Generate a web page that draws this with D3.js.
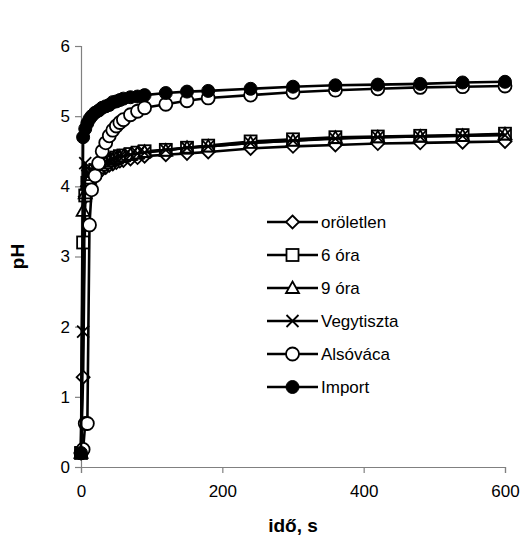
<!DOCTYPE html>
<html>
<head>
<meta charset="utf-8">
<script src="https://cdn.jsdelivr.net/npm/d3@7"></script>
<style>
  body { margin: 0; background: #fff; }
  svg text { font-family: "Liberation Sans", Arial, sans-serif; fill: #000; }
</style>
</head>
<body>
<svg id="chart"></svg>
<script>
var width = 522;
var height = 540;

// time, s
var times = [0, 3, 6, 9, 12, 15, 20, 25, 30, 35, 40, 45, 50, 55, 60, 70, 80, 90, 120, 150, 180, 240, 300, 360, 420, 480, 540, 600];

var seriesNames = [" oröletlen", "6 óra", "9 óra", "Vegytiszta", "Alsóváca", "Import"];
var seriesSymbols = ["diamond", "square", "triangle", "cross", "circle", "dot"];

var orolettlen = [0.2, 1.28, 3.85, 4.0, 4.07, 4.12, 4.17, 4.21, 4.24, 4.27, 4.3, 4.32, 4.34, 4.36, 4.37, 4.39, 4.41, 4.43, 4.45, 4.47, 4.49, 4.54, 4.57, 4.59, 4.61, 4.62, 4.63, 4.64];
var ora6 = [0.2, 3.2, 3.87, 4.05, 4.13, 4.18, 4.23, 4.27, 4.31, 4.34, 4.37, 4.39, 4.41, 4.43, 4.44, 4.46, 4.48, 4.5, 4.52, 4.55, 4.58, 4.64, 4.67, 4.7, 4.71, 4.72, 4.73, 4.75];
var ora9 = [0.2, 3.65, 3.9, 4.02, 4.11, 4.16, 4.22, 4.26, 4.3, 4.33, 4.36, 4.38, 4.4, 4.42, 4.43, 4.45, 4.47, 4.49, 4.51, 4.55, 4.57, 4.62, 4.65, 4.69, 4.7, 4.71, 4.72, 4.74];
var vegytiszta = [0.2, 1.93, 4.33, 4.15, 4.18, 4.2, 4.24, 4.28, 4.31, 4.34, 4.36, 4.38, 4.4, 4.42, 4.43, 4.45, 4.47, 4.48, 4.52, 4.55, 4.57, 4.62, 4.65, 4.68, 4.7, 4.71, 4.72, 4.73];
var alsovaca = [0.2, 0.25, 0.62, 0.62, 3.45, 3.95, 4.15, 4.33, 4.5, 4.62, 4.72, 4.8, 4.86, 4.91, 4.95, 5.02, 5.07, 5.12, 5.17, 5.22, 5.26, 5.3, 5.34, 5.37, 5.39, 5.41, 5.42, 5.43];
var importPh = [0.2, 4.7, 4.82, 4.9, 4.96, 5.0, 5.05, 5.08, 5.12, 5.14, 5.16, 5.2, 5.21, 5.23, 5.25, 5.27, 5.28, 5.3, 5.33, 5.35, 5.36, 5.39, 5.42, 5.44, 5.45, 5.46, 5.48, 5.49];

var xTicks = [0, 200, 400, 600];
var yTicks = [0, 1, 2, 3, 4, 5, 6];

var allSeries = [orolettlen, ora6, ora9, vegytiszta, alsovaca, importPh];

var margin = {left: 81, right: 17, top: 46, bottom: 73};

var svg = d3.select("#chart").attr("width", width).attr("height", height);

var x = d3.scaleLinear().domain([0, 600]).range([margin.left, width - margin.right]);
var y = d3.scaleLinear().domain([0, 6]).range([height - margin.bottom, margin.top]);

// axes
var xAxis = svg.append("g")
    .attr("transform", "translate(0," + y(0) + ")")
    .call(d3.axisBottom(x).tickValues(xTicks).tickSize(6).tickPadding(12));
var yAxis = svg.append("g")
    .attr("transform", "translate(" + x(0) + ",0)")
    .call(d3.axisLeft(y).tickValues(yTicks).tickFormat(d3.format("d")).tickSize(6).tickPadding(5));

[xAxis, yAxis].forEach(function (a) {
    a.select(".domain").attr("stroke", "#808080").attr("stroke-width", 1.2);
    a.selectAll(".tick line").attr("stroke", "#808080").attr("stroke-width", 1.2);
    a.selectAll(".tick text").style("font-size", "17px").attr("fill", "#000");
});

svg.append("text")
    .attr("transform", "translate(24," + ((y(0) + y(6)) / 2) + ") rotate(-90)")
    .attr("text-anchor", "middle")
    .style("font-size", "19px")
    .style("font-weight", "bold")
    .text("pH");

svg.append("text")
    .attr("x", (x(0) + x(600)) / 2)
    .attr("y", 532)
    .attr("text-anchor", "middle")
    .style("font-size", "19px")
    .style("font-weight", "bold")
    .text("idő, s");

function drawMarker(g, kind, cx, cy) {
    var s = 6;
    if (kind == "diamond") {
        g.append("path")
            .attr("d", "M" + cx + "," + (cy - 6.5) + "L" + (cx + 6.5) + "," + cy + "L" + cx + "," + (cy + 6.5) + "L" + (cx - 6.5) + "," + cy + "Z")
            .attr("fill", "#fff").attr("stroke", "#000").attr("stroke-width", 1.8);
    } else if (kind == "square") {
        g.append("rect")
            .attr("x", cx - s).attr("y", cy - s).attr("width", 2 * s).attr("height", 2 * s)
            .attr("fill", "#fff").attr("stroke", "#000").attr("stroke-width", 1.8);
    } else if (kind == "triangle") {
        g.append("path")
            .attr("d", "M" + cx + "," + (cy - 6.5) + "L" + (cx + 6.5) + "," + (cy + 5) + "L" + (cx - 6.5) + "," + (cy + 5) + "Z")
            .attr("fill", "#fff").attr("stroke", "#000").attr("stroke-width", 1.8);
    } else if (kind == "cross") {
        g.append("path")
            .attr("d", "M" + (cx - s) + "," + (cy - s) + "L" + (cx + s) + "," + (cy + s) + "M" + (cx + s) + "," + (cy - s) + "L" + (cx - s) + "," + (cy + s))
            .attr("fill", "none").attr("stroke", "#000").attr("stroke-width", 1.8);
    } else if (kind == "circle") {
        g.append("circle").attr("cx", cx).attr("cy", cy).attr("r", 6.5)
            .attr("fill", "#fff").attr("stroke", "#000").attr("stroke-width", 1.8);
    } else {
        g.append("circle").attr("cx", cx).attr("cy", cy).attr("r", 6.5)
            .attr("fill", "#000").attr("stroke", "#000").attr("stroke-width", 1);
    }
}

var line = d3.line()
    .x(function (d) { return x(d[0]); })
    .y(function (d) { return y(d[1]); });

allSeries.forEach(function (vals, i) {
    var pts = times.map(function (t, j) { return [t, vals[j]]; });
    var g = svg.append("g");
    g.append("path")
        .attr("d", line(pts))
        .attr("fill", "none")
        .attr("stroke", "#000")
        .attr("stroke-width", 2.6);
    pts.forEach(function (p) {
        drawMarker(g, seriesSymbols[i], x(p[0]), y(p[1]));
    });
});

// legend
var legend = svg.append("g");
seriesNames.forEach(function (name, i) {
    var ly = 222 + i * 33;
    legend.append("line")
        .attr("x1", 267).attr("x2", 318)
        .attr("y1", ly).attr("y2", ly)
        .attr("stroke", "#000").attr("stroke-width", 2.6);
    drawMarker(legend, seriesSymbols[i], 292.5, ly);
    legend.append("text")
        .attr("x", 321)
        .attr("y", ly + 6)
        .style("font-size", "17px")
        .text(name);
});
</script>
</body>
</html>
